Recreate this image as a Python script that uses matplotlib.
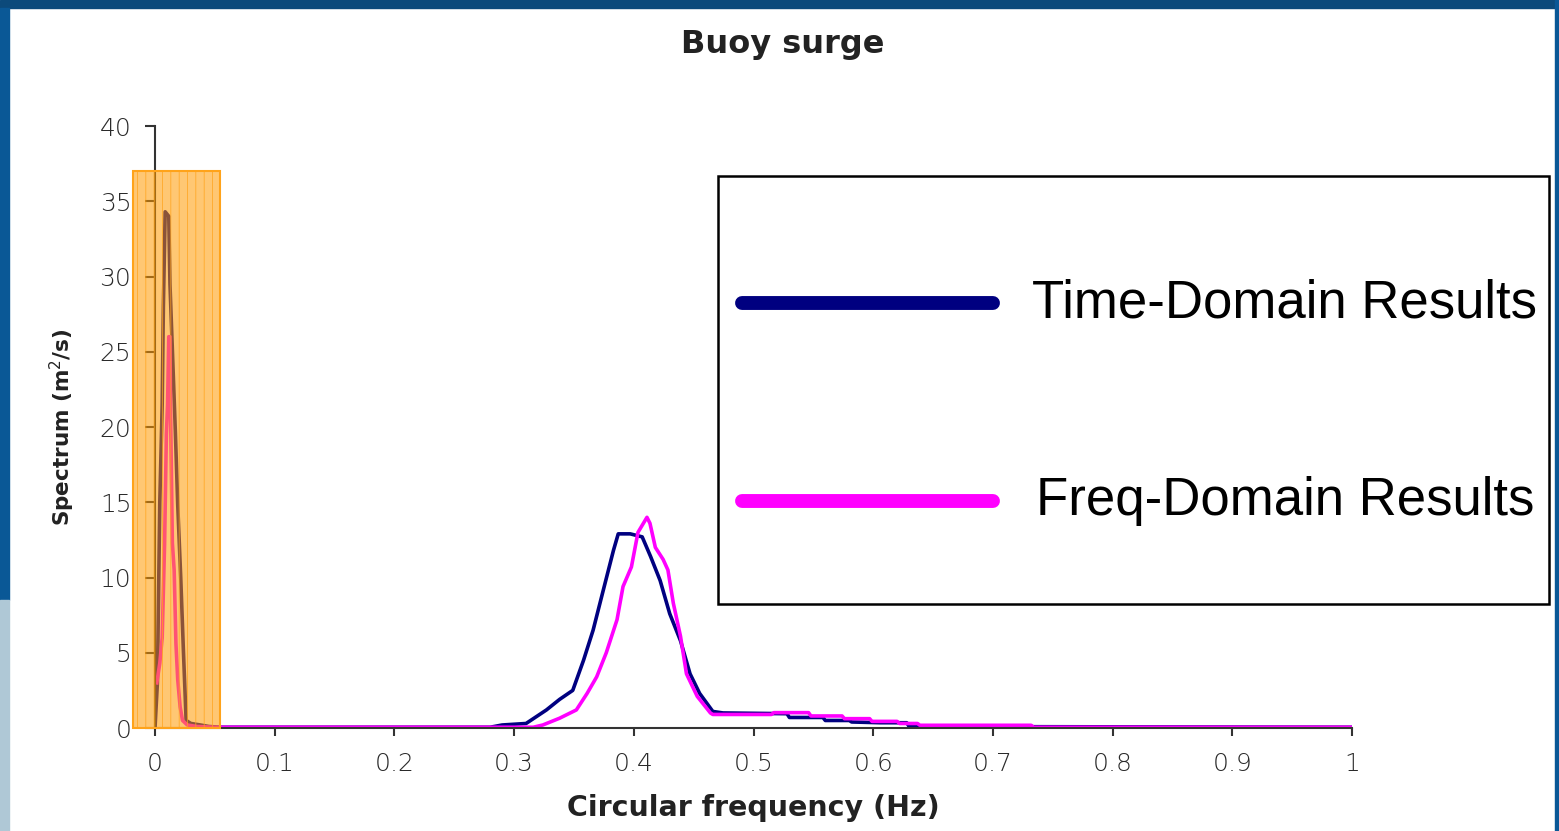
import matplotlib
matplotlib.use("Agg")
import matplotlib.pyplot as plt
from matplotlib.patches import Rectangle
from matplotlib.lines import Line2D

# --- data ---
freq_td = [0, 0.002, 0.003, 0.004, 0.006, 0.007, 0.0085, 0.0115, 0.0125, 0.0148,
           0.017, 0.019, 0.0215, 0.0237, 0.026, 0.03, 0.038, 0.045, 0.055, 0.28,
           0.29, 0.31, 0.327, 0.338, 0.349, 0.358, 0.366, 0.374, 0.383, 0.387,
           0.397, 0.407, 0.414, 0.422, 0.430, 0.439, 0.447, 0.455, 0.466, 0.4745,
           0.528, 0.53, 0.558, 0.56, 0.58, 0.582, 0.606, 0.628, 0.63, 1.0]
spec_td = [0, 3, 9, 15, 21.5, 28, 34.3, 34.0, 29.5, 24.5,
           19.7, 14.8, 10.0, 5.2, 0.5, 0.3, 0.2, 0.1, 0.05, 0.05,
           0.2, 0.3, 1.2, 1.9, 2.5, 4.5, 6.5, 9.0, 11.8, 12.9,
           12.9, 12.7, 11.4, 9.8, 7.6, 5.8, 3.6, 2.3, 1.1, 1.0,
           0.95, 0.7, 0.7, 0.5, 0.5, 0.4, 0.35, 0.35, 0.1, 0.05]

freq_fd = [0.0015, 0.004, 0.006, 0.008, 0.0095, 0.0105, 0.0115, 0.0125, 0.013, 0.0145,
           0.016, 0.0175, 0.019, 0.021, 0.023, 0.027, 0.035, 0.05, 0.316, 0.324,
           0.338, 0.352, 0.361, 0.369, 0.377, 0.386, 0.391, 0.398, 0.4035, 0.411,
           0.4135, 0.418, 0.4245, 0.4285, 0.433, 0.439, 0.444, 0.453, 0.464, 0.466,
           0.515, 0.517, 0.546, 0.548, 0.574, 0.576, 0.597, 0.599, 0.620, 0.622,
           0.637, 0.639, 0.732, 0.734, 1.0]
spec_fd = [3.0, 4.3, 6.0, 12.2, 19.5, 21.5, 26.0, 26.0, 21.0, 12.3,
           10.5, 5.6, 3.2, 1.4, 0.5, 0.2, 0.1, 0.05, 0.05, 0.2,
           0.65, 1.2, 2.3, 3.4, 5.0, 7.2, 9.4, 10.7, 13.0, 14.0,
           13.6, 12.0, 11.2, 10.5, 8.3, 6.1, 3.6, 2.1, 1.0, 0.9,
           0.9, 1.02, 1.02, 0.8, 0.8, 0.62, 0.62, 0.44, 0.44, 0.3,
           0.3, 0.18, 0.18, 0.05, 0.05]

labels = ["Time-Domain Results", "Freq-Domain Results"]
colors = ["#000080", "#FF00FF"]

W, H = 1559, 831
plt.rcParams["hatch.color"] = "#FFB84A"
plt.rcParams["hatch.linewidth"] = 0.5
fig = plt.figure(figsize=(W / 100, H / 100), dpi=100)
fig.patch.set_facecolor("white")

def fx(px):
    return px / W

def fy(py):
    return 1 - py / H

# slide border
fig.add_artist(Rectangle((0, fy(8)), 1, 8 / H, transform=fig.transFigure, color="#0C4A7B", zorder=0))
fig.add_artist(Rectangle((0, fy(600)), 9 / W, 592 / H, transform=fig.transFigure, color="#0A5896", zorder=0))
fig.add_artist(Rectangle((0, 0), 9 / W, 231 / H, transform=fig.transFigure, color="#AFC8D6", zorder=0))
fig.add_artist(Rectangle((fx(1555), 0), 4 / W, 1, transform=fig.transFigure, color="#0A5896", zorder=0))

ax = fig.add_axes([fx(155), fy(728), (1352 - 155) / W, (728 - 126) / H])
ax.set_facecolor("none")

ax.plot(freq_td, spec_td, color=colors[0], lw=2.6, zorder=2)
ax.plot(freq_fd, spec_fd, color=colors[1], lw=2.6, zorder=2.1)

# orange highlight box over the low-frequency peak
ax.add_patch(Rectangle((-0.018, 0), 0.0725, 37.0, facecolor="#FF9900", alpha=0.55,
                       edgecolor="none", zorder=3, clip_on=False))
ax.add_patch(Rectangle((-0.018, 0), 0.0725, 37.0, facecolor="none", edgecolor="#FFA31A",
                       lw=1.5, hatch="||", zorder=3.1, clip_on=False))

ax.set_xlim(0, 1)
ax.set_ylim(0, 40)
ax.set_xticks([0, 0.1, 0.2, 0.3, 0.4, 0.5, 0.6, 0.7, 0.8, 0.9, 1])
ax.set_xticklabels(["0", "0.1", "0.2", "0.3", "0.4", "0.5", "0.6", "0.7", "0.8", "0.9", "1"])
ax.set_yticks(range(0, 41, 5))
for s in ["top", "right"]:
    ax.spines[s].set_visible(False)
for s in ["left", "bottom"]:
    ax.spines[s].set_color("#333333")
    ax.spines[s].set_linewidth(1.5)
ax.tick_params(axis="y", length=7, width=1.5, color="#333333", pad=10,
               labelsize=18, labelcolor="#2a2a2a")
ax.tick_params(axis="x", length=6, width=1.5, color="#333333", pad=11,
               labelsize=18, labelcolor="#2a2a2a")
for lab in ax.get_xticklabels() + ax.get_yticklabels():
    lab.set_fontweight("light")

fig.text(fx(783), fy(45), "Buoy surge", ha="center", va="center",
         fontsize=23, fontweight="bold", color="#222222")
fig.text(fx(753), fy(808), "Circular frequency (Hz)", ha="center", va="center",
         fontsize=20.5, fontweight="bold", color="#222222")
fig.text(fx(62), fy(427), "Spectrum (m$^2$/s)", ha="center", va="center",
         rotation=90, fontsize=15.5, fontweight="bold", color="#222222")

# legend box
fig.add_artist(Rectangle((fx(718), fy(604)), (1549 - 718) / W, (604 - 176) / H,
                         transform=fig.transFigure, facecolor="white",
                         edgecolor="black", lw=1.8, zorder=5))
for i, yy in enumerate([303, 501]):
    fig.add_artist(Line2D([fx(742), fx(993)], [fy(yy), fy(yy)], transform=fig.transFigure,
                          color=colors[i], lw=10, solid_capstyle="round", zorder=6))
    fig.text(fx(1032 + 4 * i), fy(yy), labels[i], ha="left", va="center",
             fontsize=38, family="Liberation Sans", color="black", zorder=6)

fig.savefig("out.png", dpi=100)
